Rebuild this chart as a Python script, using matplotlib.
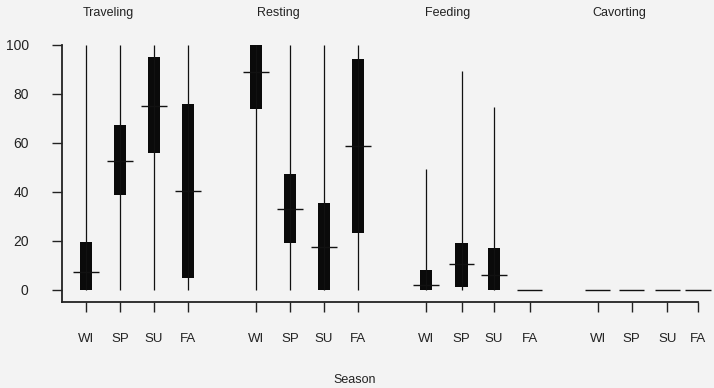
import numpy as np
import matplotlib.pyplot as plt

plt.rcParams['font.family'] = ['Liberation Sans', 'DejaVu Sans']

behaviours = ['Traveling', 'Resting', 'Feeding', 'Cavorting']
seasons = ['WI', 'SP', 'SU', 'FA']

# per behaviour, per season: whisker low, box low, median, box high, whisker high
lo = [[0, 0, 0, 0], [0, 0, 0, 0], [0, 0, 0, 0], [0, 0, 0, 0]]
q1 = [[0, 38.8, 56, 4.8], [73.7, 19.3, 0, 23.4], [0, 1.4, 0, 0], [0, 0, 0, 0]]
med = [[7.5, 52.7, 75.2, 40.4], [89, 33.2, 17.4, 58.8], [2.2, 10.5, 6.1, 0], [0, 0, 0, 0]]
q3 = [[19.7, 67.3, 95.2, 75.9], [100, 47.2, 35.6, 94.1], [8.2, 19, 17.3, 0], [0, 0, 0, 0]]
hi = [[100, 100, 100, 100], [100, 100, 100, 100], [49.3, 89.4, 74.7, 0], [0, 0, 0, 0]]

# slot positions (cavorting ticks are a bit uneven in the original)
pos = [[0, 1, 2, 3], [5, 6, 7, 8], [10, 11.05, 12, 13.05], [15.05, 16.05, 17.1, 18]]

fig = plt.figure(figsize=(7.14, 3.88), dpi=100, facecolor='#f3f3f3')
ax = fig.add_axes([62/714, 1-302/388, 636/714, 257/388])
ax.set_facecolor('#f3f3f3')

for g in range(4):
    x = np.array(pos[g])
    a_lo, a_q1, a_med = np.array(lo[g]), np.array(q1[g]), np.array(med[g])
    a_q3, a_hi = np.array(q3[g]), np.array(hi[g])
    ax.vlines(x, a_lo, a_hi, color='#111111', lw=0.9)
    ax.bar(x, a_q3 - a_q1, bottom=a_q1, width=0.38, color='#0a0a0a')
    ax.hlines(a_med, x - 0.37, x + 0.37, color='#111111', lw=1.0, clip_on=False)
    ax.text(x[0] + 0.65, 113, behaviours[g], ha='center', va='center',
            fontsize=9, color='#222222', clip_on=False)

allpos = [p for grp in pos for p in grp]
ax.set_xticks(allpos)
ax.set_xticklabels(seasons * 4)
ax.set_xlim(-0.706, 18.0)
ax.set_ylim(-4.9, 100)
ax.set_yticks([0, 20, 40, 60, 80, 100])

for s in ['top', 'right']:
    ax.spines[s].set_visible(False)
for s in ['left', 'bottom']:
    ax.spines[s].set_linewidth(1.3)
    ax.spines[s].set_color('#222222')
ax.tick_params(axis='y', length=7, width=1, pad=17, labelsize=10, colors='#222222')
ax.tick_params(axis='x', length=7, width=1, pad=15, labelsize=9.5, colors='#222222')

fig.text(355/714, 1-380/388, 'Season', ha='center', va='center', fontsize=9, color='#222222')

fig.savefig('out.png', dpi=100, facecolor=fig.get_facecolor())
